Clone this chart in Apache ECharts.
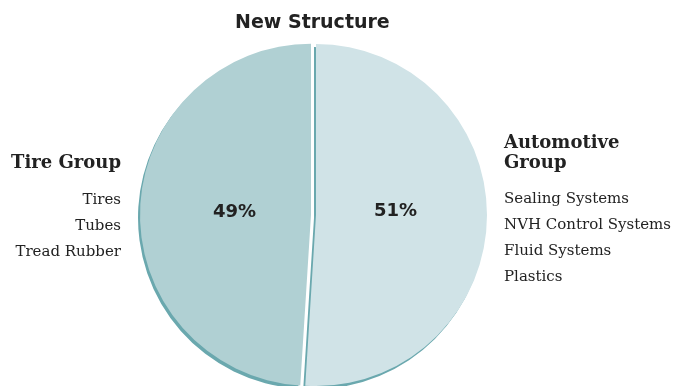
<!DOCTYPE html>
<html>
<head>
<meta charset="utf-8">
<script src="https://cdn.jsdelivr.net/npm/echarts@6/dist/echarts.min.js"></script>
<style>
  html, body { margin: 0; padding: 0; background: #fff; }
  #chart { width: 673px; height: 386px; }
</style>
</head>
<body>
<div id="chart"></div>
<script>
  // slice data (right slice first, clockwise from 12 o'clock)
  var groups = ['Automotive Group', 'Tire Group'];
  var shares = [51, 49];
  var sliceColors = ['#d0e3e7', '#b0d0d3'];
  var tireItems = ['Tires', 'Tubes', 'Tread Rubber'];
  var autoItems = ['Sealing Systems', 'NVH Control Systems', 'Fluid Systems', 'Plastics'];

  // nudges for the percent labels inside the slices
  var labelPads = [[0, 18, 0, 0], [0, 0, 0, 24]];
  var labelFormats = ['{c}%\n ', '{c}%'];

  var chart = echarts.init(document.getElementById('chart'));

  var serif = '"DejaVu Serif", "Liberation Serif", serif';

  chart.setOption({
    animation: false,
    title: {
      text: 'New Structure',
      left: 230,
      top: 9,
      textStyle: {
        fontFamily: '"DejaVu Sans", sans-serif',
        fontWeight: 'bold',
        fontSize: 19,
        color: '#222'
      }
    },
    graphic: [
      {
        type: 'text', x: 121, y: 154,
        style: { text: 'Tire Group', textAlign: 'right', textVerticalAlign: 'top',
          font: 'bold 18px ' + serif, fill: '#222' }
      },
      {
        type: 'text', x: 121, y: 187,
        style: { text: tireItems.join('\n'), textAlign: 'right', textVerticalAlign: 'top',
          font: '15px ' + serif, lineHeight: 26, fill: '#222' }
      },
      {
        type: 'text', x: 504, y: 133,
        style: { text: 'Automotive\nGroup', textAlign: 'left', textVerticalAlign: 'top',
          font: 'bold 18px ' + serif, lineHeight: 20, fill: '#222' }
      },
      {
        type: 'text', x: 504, y: 186,
        style: { text: autoItems.join('\n'), textAlign: 'left', textVerticalAlign: 'top',
          font: '15px ' + serif, lineHeight: 26, fill: '#222' }
      }
    ],
    series: [{
      type: 'pie',
      center: [316, 215],
      radius: 171,
      startAngle: 90,
      clockwise: true,
      selectedMode: 'multiple',
      selectedOffset: 5,
      data: groups.map(function (g, i) {
        return {
          name: g,
          value: shares[i],
          selected: i === 1,
          itemStyle: { color: sliceColors[i] },
          label: { padding: labelPads[i], formatter: labelFormats[i] }
        };
      }),
      itemStyle: {
        borderWidth: 0,
        shadowColor: '#6aa8ae',
        shadowBlur: 0,
        shadowOffsetX: -2,
        shadowOffsetY: 3
      },
      label: {
        position: 'inside',
        fontFamily: '"DejaVu Sans", sans-serif',
        fontWeight: 'bold',
        fontSize: 18,
        lineHeight: 13,
        color: '#222'
      },
      labelLine: { show: false },
      emphasis: { disabled: true }
    }]
  });
</script>
</body>
</html>
